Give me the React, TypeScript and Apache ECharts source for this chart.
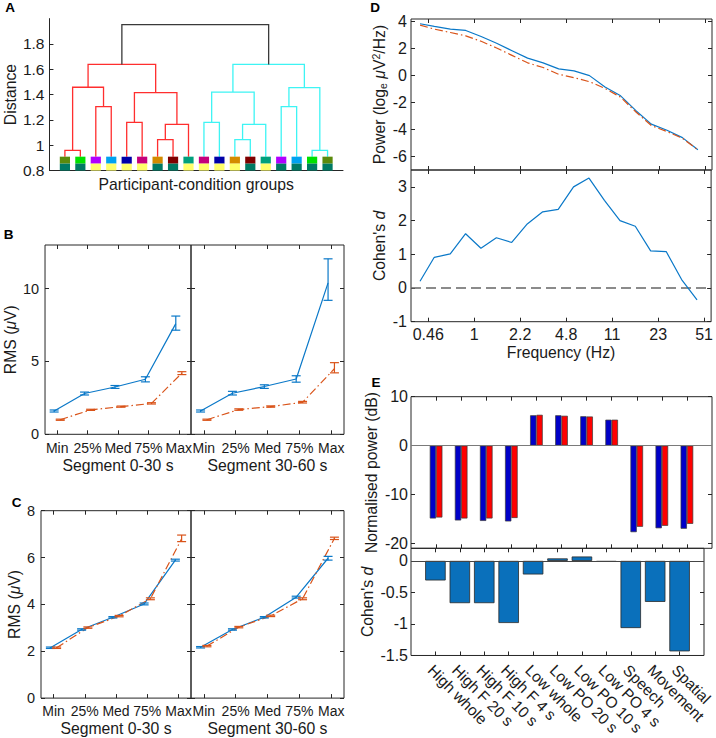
import React, { useEffect, useRef } from "react";
import * as echarts from "echarts";

const FONT = '"Liberation Sans", Arial, Helvetica, sans-serif';
const TXT = "#1a1a1a";
const AXC = "#262626";
const BLUE = "#0a78c8";
const ORANGE = "#d95319";
const NAME_FS = 15.75;

// ---------- Panel A: dendrogram ----------
const TEAL = "#007a64";
const YEL = "#ffff6a";
const leafTopColors = ["#5b8a0c", "#00e000", "#b000ff", "#00a2f0", "#0000a8", "#c4007c", "#d38b00", "#7f0000", "#00a07c", "#c4007c", "#0000a8", "#d38b00", "#7f0000", "#00a07c", "#b000ff", "#00a2f0", "#00e000", "#5b8a0c"];
const leafBottomColors = [TEAL, TEAL, YEL, YEL, YEL, YEL, TEAL, TEAL, YEL, YEL, YEL, YEL, TEAL, YEL, TEAL, TEAL, TEAL, TEAL];
// node indices: leaves 0..17, merges create nodes 18, 19, ...
const mergeLeft = [0, 2, 18, 4, 6, 22, 21, 20, 9, 11, 27, 26, 14, 16, 30, 29, 25];
const mergeRight = [1, 3, 19, 5, 7, 8, 23, 24, 10, 12, 13, 28, 15, 17, 31, 32, 33];
const mergeHeight = [0.96, 1.305, 1.458, 1.18, 1.045, 1.165, 1.415, 1.638, 1.18, 1.045, 1.165, 1.42, 1.305, 0.96, 1.455, 1.638, 1.952];
const mergeColorIdx = [0, 0, 0, 0, 0, 0, 0, 0, 1, 1, 1, 1, 1, 1, 1, 1, 2];
const linkColors = ["#ff2e2e", "#3ef4f4", "#3a3a3a"];
const aTicks = [0.8, 1, 1.2, 1.4, 1.6, 1.8];
const leafLineBase = 0.91;
const leafMid = 0.855;

// ---------- Panels B, C ----------
const rmsCats = ["Min", "25%", "Med", "75%", "Max"];
const segNames = ["Segment 0-30 s", "Segment 30-60 s"];

const bBlue0 = [1.6, 2.8, 3.25, 3.78, 7.6];
const bBlue0Lo = [1.53, 2.7, 3.15, 3.6, 7.15];
const bBlue0Hi = [1.67, 2.9, 3.35, 3.95, 8.12];
const bRed0 = [1.0, 1.68, 1.9, 2.12, 4.2];
const bRed0Lo = [0.96, 1.64, 1.86, 2.08, 4.1];
const bRed0Hi = [1.04, 1.72, 1.94, 2.17, 4.3];
const bBlue1 = [1.6, 2.82, 3.28, 3.8, 10.4];
const bBlue1Lo = [1.53, 2.7, 3.15, 3.58, 9.2];
const bBlue1Hi = [1.67, 2.95, 3.4, 4.02, 12.05];
const bRed1 = [1.0, 1.7, 1.9, 2.2, 4.5];
const bRed1Lo = [0.96, 1.65, 1.86, 2.15, 4.22];
const bRed1Hi = [1.04, 1.75, 1.95, 2.26, 4.92];
const bTicks = [0, 5, 10];

const cBlue0 = [2.15, 2.93, 3.45, 4.02, 5.89];
const cBlue0Lo = [2.12, 2.9, 3.42, 3.98, 5.85];
const cBlue0Hi = [2.18, 2.96, 3.48, 4.06, 5.93];
const cRed0 = [2.15, 3.01, 3.5, 4.24, 6.8];
const cRed0Lo = [2.12, 2.98, 3.47, 4.2, 6.68];
const cRed0Hi = [2.18, 3.04, 3.53, 4.28, 6.96];
const cBlue1 = [2.17, 2.93, 3.45, 4.31, 5.97];
const cBlue1Lo = [2.14, 2.9, 3.42, 4.27, 5.89];
const cBlue1Hi = [2.2, 2.96, 3.48, 4.35, 6.05];
const cRed1 = [2.22, 3.03, 3.51, 4.24, 6.82];
const cRed1Lo = [2.19, 3.0, 3.48, 4.2, 6.77];
const cRed1Hi = [2.25, 3.06, 3.54, 4.28, 6.87];
const cTicks = [0, 2, 4, 6, 8];

// ---------- Panel D ----------
const dFreqs = [0.4, 0.51, 0.67, 0.87, 1.13, 1.47, 1.91, 2.49, 3.24, 4.22, 5.48, 7.13, 9.28, 12.1, 15.7, 20.4, 26.6, 34.6, 45.0];
const dPowerBlue = [3.85, 3.65, 3.45, 3.35, 2.9, 2.4, 1.85, 1.3, 0.95, 0.5, 0.35, 0.0, -0.85, -1.5, -2.6, -3.6, -4.05, -4.6, -5.5];
const dPowerRed = [3.75, 3.45, 3.2, 2.95, 2.55, 2.05, 1.5, 0.95, 0.6, 0.1, -0.15, -0.45, -0.95, -1.6, -2.7, -3.7, -4.15, -4.65, -5.5];
const dCohen = [0.2, 0.91, 1.01, 1.61, 1.18, 1.49, 1.35, 1.9, 2.26, 2.33, 3.0, 3.26, 2.6, 2.0, 1.83, 1.1, 1.08, 0.25, -0.35];
const dTickFreqs = [0.46, 1.007, 2.206, 4.832, 10.58, 23.18, 50.76];
const dTickLabels = ["0.46", "1", "2.2", "4.8", "11", "23", "51"];
const dFreqMin = 0.343;
const dFreqMax = 57.2;
const dPowTicks = [-6, -4, -2, 0, 2, 4];
const dCohTicks = [-1, 0, 1, 2, 3];

// ---------- Panel E ----------
const eCats = ["High whole", "High F 20 s", "High F 10 s", "High F 4 s", "Low whole", "Low PO 20 s", "Low PO 10 s", "Low PO 4 s", "Speech", "Movement", "Spatial"];
const ePowBlue = [-14.9, -15.3, -15.4, -15.5, 6.2, 6.2, 6.0, 5.3, -17.7, -16.9, -17.0];
const ePowRed = [-14.7, -14.9, -14.9, -14.8, 6.3, 6.1, 5.95, 5.3, -16.6, -16.4, -16.0];
const eCohen = [-0.31, -0.67, -0.67, -0.985, -0.215, 0.04, 0.07, -0.015, -1.065, -0.65, -1.435];
const ePowTicks = [-20, -10, 0, 10];
const eCohTicks = [-1.5, -1, -0.5, 0];

const RICH = {
  it: { fontStyle: "italic", fontFamily: FONT, fontSize: NAME_FS, color: TXT },
  sub: { fontSize: 10.5, verticalAlign: "bottom", lineHeight: 10, fontFamily: FONT, color: TXT },
  sup: { fontSize: 10.5, verticalAlign: "top", lineHeight: 10, fontFamily: FONT, color: TXT },
};

const numFmt = (v: number) => String(Number(v.toFixed(2)));

function mkAxis(gi: number, position: string, s: any, primary: boolean, visible: boolean) {
  return {
    type: "value",
    gridIndex: gi,
    position,
    show: visible,
    min: s.min,
    max: s.max,
    axisLine: { show: primary && !!s.line, onZero: false, lineStyle: { color: AXC, width: 1 } },
    splitLine: { show: false },
    axisTick: {
      show: s.ticks.length > 0 && s.tickShow !== false,
      inside: true,
      length: 4,
      customValues: s.ticks,
      lineStyle: { color: AXC, width: 1 },
    },
    axisLabel: {
      show: primary && !!s.labels,
      customValues: s.labelValues || s.ticks,
      formatter: s.fmt || numFmt,
      fontFamily: FONT,
      color: TXT,
      fontSize: s.fontSize ?? 14,
      margin: s.margin ?? 6,
      rotate: s.rotate ?? 0,
    },
    name: primary && s.name ? s.name : "",
    nameLocation: "middle",
    nameGap: s.nameGap ?? 20,
    nameTextStyle: { fontFamily: FONT, color: TXT, fontSize: NAME_FS, lineHeight: 18, rich: RICH },
  };
}

function buildOption() {
  const grid: any[] = [];
  const xAxis: any[] = [];
  const yAxis: any[] = [];
  const series: any[] = [];

  function panel(rect: number[], box: boolean, xs: any, ys: any) {
    const gi = grid.length;
    grid.push({ left: rect[0], top: rect[1], width: rect[2], height: rect[3], show: box, borderColor: AXC, borderWidth: 1, backgroundColor: "transparent" });
    const xi = xAxis.length;
    xAxis.push(mkAxis(gi, "bottom", xs, true, true));
    xAxis.push(mkAxis(gi, "top", xs, false, box));
    const yi = yAxis.length;
    yAxis.push(mkAxis(gi, "left", ys, true, true));
    yAxis.push(mkAxis(gi, "right", ys, false, box));
    return { xi, yi };
  }

  // ----- A -----
  const pA = panel([41, 18.6, 302, 152], false,
    { min: 0, max: 19, ticks: [], tickShow: false, labels: false, line: true, name: "Participant-condition groups", nameGap: 5 },
    { min: 0.8, max: 2.0, ticks: aTicks, labels: true, line: true, name: "Distance", nameGap: 25, margin: 5, fontSize: 15.5 });

  const nodeX: number[] = [];
  const nodeH: number[] = [];
  for (let i = 0; i < leafTopColors.length; i++) { nodeX.push(i + 1); nodeH.push(leafLineBase); }
  const linkData: number[][] = [];
  for (let k = 0; k < mergeLeft.length; k++) {
    const l = mergeLeft[k], r = mergeRight[k], h = mergeHeight[k];
    linkData.push([nodeX[l], nodeH[l], nodeX[r], nodeH[r], h, mergeColorIdx[k]]);
    nodeX.push((nodeX[l] + nodeX[r]) / 2);
    nodeH.push(h);
  }
  series.push({
    type: "custom", xAxisIndex: pA.xi, yAxisIndex: pA.yi, data: linkData, silent: true,
    renderItem: (params: any, api: any) => {
      const xl = api.value(0), hl = api.value(1), xr = api.value(2), hr = api.value(3), h = api.value(4), ci = api.value(5);
      const pts = [api.coord([xl, hl]), api.coord([xl, h]), api.coord([xr, h]), api.coord([xr, hr])];
      return { type: "polyline", shape: { points: pts }, style: { stroke: linkColors[ci], fill: "none", lineWidth: 1.3 } };
    },
  });
  series.push({
    type: "custom", xAxisIndex: pA.xi, yAxisIndex: pA.yi, silent: true,
    data: leafTopColors.map((c, i) => [i + 1, i]),
    renderItem: (params: any, api: any) => {
      const x = api.value(0);
      const i = params.dataIndex;
      const a = api.coord([x - 0.33, leafLineBase]);
      const b = api.coord([x + 0.33, leafMid]);
      const c = api.coord([x + 0.33, 0.8]);
      return {
        type: "group", children: [
          { type: "rect", shape: { x: a[0], y: a[1], width: b[0] - a[0], height: b[1] - a[1] }, style: { fill: leafTopColors[i] } },
          { type: "rect", shape: { x: a[0], y: b[1], width: b[0] - a[0], height: c[1] - b[1] }, style: { fill: leafBottomColors[i] } },
        ],
      };
    },
  });

  // ----- B, C -----
  const catFmt = (v: number) => rmsCats[Math.round(v) - 1] ?? "";
  function errSeries(p: any, xs: number[], lo: number[], hi: number[], color: string) {
    return {
      type: "custom", xAxisIndex: p.xi, yAxisIndex: p.yi, silent: true, z: 3,
      data: xs.map((x, i) => [x, lo[i], hi[i]]),
      renderItem: (params: any, api: any) => {
        const pl = api.coord([api.value(0), api.value(1)]);
        const ph = api.coord([api.value(0), api.value(2)]);
        const hw = 4.5;
        const st = { stroke: color, lineWidth: 1.2 };
        return {
          type: "group", children: [
            { type: "line", shape: { x1: pl[0], y1: pl[1], x2: ph[0], y2: ph[1] }, style: st },
            { type: "line", shape: { x1: pl[0] - hw, y1: pl[1], x2: pl[0] + hw, y2: pl[1] }, style: st },
            { type: "line", shape: { x1: ph[0] - hw, y1: ph[1], x2: ph[0] + hw, y2: ph[1] }, style: st },
          ],
        };
      },
    };
  }
  function rmsPanel(p: any, blue: number[], blo: number[], bhi: number[], red: number[], rlo: number[], rhi: number[]) {
    const xb = blue.map((_, i) => i + 1 - 0.1);
    const xr = red.map((_, i) => i + 1 + 0.1);
    series.push({ type: "line", xAxisIndex: p.xi, yAxisIndex: p.yi, data: xb.map((x, i) => [x, blue[i]]), symbol: "none", lineStyle: { color: BLUE, width: 1.2 }, z: 2 });
    series.push({ type: "line", xAxisIndex: p.xi, yAxisIndex: p.yi, data: xr.map((x, i) => [x, red[i]]), symbol: "none", lineStyle: { color: ORANGE, width: 1.2, type: [8, 3, 1.5, 3] }, z: 2 });
    series.push(errSeries(p, xb, blo, bhi, BLUE));
    series.push(errSeries(p, xr, rlo, rhi, ORANGE));
  }
  const catTicks = rmsCats.map((_, i) => i + 1);
  const pB0 = panel([41, 245, 150, 189.3], true,
    { min: 0.6, max: 5.4, ticks: catTicks, labels: true, fmt: catFmt, name: segNames[0], nameGap: 22, margin: 7 },
    { min: 0, max: 13, ticks: bTicks, labels: true, name: "RMS ({it|μ}V)", nameGap: 20, margin: 6, fontSize: 14.5 });
  const pB1 = panel([191, 245, 153, 189.3], true,
    { min: 0.6, max: 5.4, ticks: catTicks, labels: true, fmt: catFmt, name: segNames[1], nameGap: 22, margin: 7 },
    { min: 0, max: 13, ticks: bTicks, labels: false });
  rmsPanel(pB0, bBlue0, bBlue0Lo, bBlue0Hi, bRed0, bRed0Lo, bRed0Hi);
  rmsPanel(pB1, bBlue1, bBlue1Lo, bBlue1Hi, bRed1, bRed1Lo, bRed1Hi);

  const pC0 = panel([41, 510.7, 150, 189.3], true,
    { min: 0.6, max: 5.4, ticks: catTicks, labels: true, fmt: catFmt, name: segNames[0], nameGap: 19, margin: 6 },
    { min: 0, max: 8, ticks: cTicks, labels: true, name: "RMS ({it|μ}V)", nameGap: 11, margin: 6, fontSize: 14.5 });
  const pC1 = panel([191, 510.7, 153, 189.3], true,
    { min: 0.6, max: 5.4, ticks: catTicks, labels: true, fmt: catFmt, name: segNames[1], nameGap: 19, margin: 6 },
    { min: 0, max: 8, ticks: cTicks, labels: false });
  rmsPanel(pC0, cBlue0, cBlue0Lo, cBlue0Hi, cRed0, cRed0Lo, cRed0Hi);
  rmsPanel(pC1, cBlue1, cBlue1Lo, cBlue1Hi, cRed1, cRed1Lo, cRed1Hi);

  // ----- D -----
  const dTicks = dTickFreqs.map((f) => Math.log(f));
  const dFmt = (v: number) => {
    let best = 0;
    dTicks.forEach((t, i) => { if (Math.abs(t - v) < Math.abs(dTicks[best] - v)) best = i; });
    return dTickLabels[best];
  };
  const dX = { min: Math.log(dFreqMin), max: Math.log(dFreqMax), ticks: dTicks };
  const pD0 = panel([411, 19, 301, 151], true,
    { ...dX, labels: false },
    { min: -7, max: 4.2, ticks: dPowTicks, labels: true, name: "Power (log{sub|e} {it|μ}V{sup|2}/Hz)", nameGap: 21, margin: 4, fontSize: 16 });
  const pD1 = panel([411, 170, 301, 151.7], true,
    { ...dX, labels: true, fmt: dFmt, name: "Frequency (Hz)", nameGap: 21, margin: 5, fontSize: 16 },
    { min: -1, max: 3.5, ticks: dCohTicks, labels: true, name: "Cohen's {it|d}", nameGap: 17, margin: 4, fontSize: 16 });
  series.push({ type: "line", xAxisIndex: pD0.xi, yAxisIndex: pD0.yi, data: dFreqs.map((f, i) => [Math.log(f), dPowerBlue[i]]), symbol: "none", lineStyle: { color: BLUE, width: 1.2 } });
  series.push({ type: "line", xAxisIndex: pD0.xi, yAxisIndex: pD0.yi, data: dFreqs.map((f, i) => [Math.log(f), dPowerRed[i]]), symbol: "none", lineStyle: { color: ORANGE, width: 1.2, type: [8, 3, 1.5, 3] } });
  series.push({
    type: "line", xAxisIndex: pD1.xi, yAxisIndex: pD1.yi, data: dFreqs.map((f, i) => [Math.log(f), dCohen[i]]), symbol: "none", lineStyle: { color: BLUE, width: 1.2 }, z: 3,
    markLine: { silent: true, symbol: "none", label: { show: false }, lineStyle: { color: "#666666", width: 1.6, type: [10, 5] }, data: [{ yAxis: 0 }], z: 1 },
  });

  // ----- E -----
  const eTicks = eCats.map((_, i) => i + 1);
  const eLabelShift = 0.2;
  const eLabelValues = eTicks.map((t) => t - eLabelShift);
  const eFmt = (v: number) => eCats[Math.round(v + eLabelShift) - 1] ?? "";
  const pE0 = panel([411, 396.7, 301, 151.6], true,
    { min: 0, max: 12, ticks: eTicks, labels: false },
    { min: -21, max: 10, ticks: ePowTicks, labels: true, name: "Normalised power (dB)", nameGap: 24, margin: 3, fontSize: 16 });
  const pE1 = panel([411, 548.3, 301, 112.7], true,
    { min: 0, max: 12, ticks: eTicks, labelValues: eLabelValues, labels: true, fmt: eFmt, rotate: -45, margin: 12, fontSize: 15.5 },
    { min: -1.5, max: 0.2, ticks: eCohTicks, labels: true, name: "Cohen's {it|d}", nameGap: 29, margin: 3, fontSize: 16 });
  series.push({
    type: "bar", xAxisIndex: pE0.xi, yAxisIndex: pE0.yi, data: ePowBlue.map((v, i) => [i + 1, v]), barWidth: 6.3, barGap: "0%",
    itemStyle: { color: "#0000c8", borderColor: "#3a3a3a", borderWidth: 0.7 },
    markLine: { silent: true, symbol: "none", label: { show: false }, lineStyle: { color: "#7a7a7a", width: 1, type: "solid" }, data: [{ yAxis: 0 }] },
  });
  series.push({
    type: "bar", xAxisIndex: pE0.xi, yAxisIndex: pE0.yi, data: ePowRed.map((v, i) => [i + 1, v]), barWidth: 6.3, barGap: "0%",
    itemStyle: { color: "#ff0000", borderColor: "#3a3a3a", borderWidth: 0.7 },
  });
  series.push({
    type: "bar", xAxisIndex: pE1.xi, yAxisIndex: pE1.yi, data: eCohen.map((v, i) => [i + 1, v]), barWidth: 20.5,
    itemStyle: { color: "#0a70bb", borderColor: "#2a2a2a", borderWidth: 0.8 },
    markLine: { silent: true, symbol: "none", label: { show: false }, lineStyle: { color: "#444", width: 1, type: "solid" }, data: [{ yAxis: 0 }] },
  });

  const letter = (t: string, x: number, y: number) => ({
    type: "text", x, y, style: { text: t, fontFamily: FONT, fontWeight: "bold", fontSize: 13.5, fill: "#000", textAlign: "center", textVerticalAlign: "middle" },
  });

  return {
    animation: false,
    backgroundColor: "#ffffff",
    textStyle: { fontFamily: FONT },
    grid, xAxis, yAxis, series,
    graphic: [letter("A", 10, 7.5), letter("B", 8.5, 234), letter("C", 16.5, 502), letter("D", 375, 7), letter("E", 376, 382)],
  };
}

export default function App() {
  const ref = useRef<HTMLDivElement>(null);
  useEffect(() => {
    const chart = echarts.init(ref.current as HTMLDivElement, null, { renderer: "svg" });
    chart.setOption(buildOption() as any);
    return () => chart.dispose();
  }, []);
  return <div ref={ref} style={{ position: "absolute", left: 0, top: 0, width: 716, height: 738, background: "#fff" }} />;
}
